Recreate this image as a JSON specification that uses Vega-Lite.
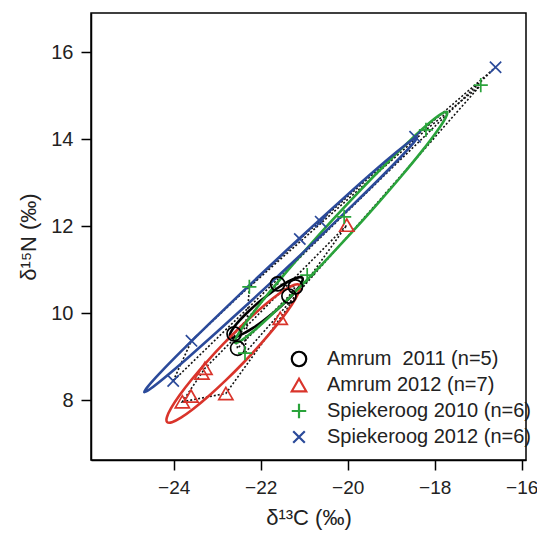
{
  "$schema": "https://vega.github.io/schema/vega-lite/v6.json",
  "width": 435,
  "height": 447,
  "autosize": {"type": "none"},
  "padding": {"left": 91, "top": 13, "right": 11, "bottom": 82},
  "background": "white",
  "config": {
    "view": {"stroke": "#000", "strokeWidth": 1.5},
    "font": "Liberation Sans",
    "axis": {
      "grid": false, "domainColor": "#000", "domainWidth": 1.5,
      "tickColor": "#000", "tickWidth": 1.5, "tickSize": 10,
      "labelFont": "Liberation Sans", "labelFontSize": 20, "labelColor": "#222",
      "titleFont": "Liberation Sans", "titleFontSize": 22, "titleFontWeight": "normal", "titleColor": "#222"
    },
    "legend": {"orient": "none", "legendX": 198, "legendY": 336, "padding": 0, "rowPadding": 3, "labelOffset": 18,
               "symbolStrokeWidth": 2.2, "symbolSize": 210, "labelFont": "Liberation Sans", "labelFontSize": 20, "labelColor": "#222", "labelLimit": 400}
  },
  "datasets": {
    "points": [
      {"group": "Amrum \u00a02011 (n=5)", "x": -21.61, "y": 10.67},
      {"group": "Amrum \u00a02011 (n=5)", "x": -21.35, "y": 10.39},
      {"group": "Amrum \u00a02011 (n=5)", "x": -22.61, "y": 9.52},
      {"group": "Amrum \u00a02011 (n=5)", "x": -22.53, "y": 9.19},
      {"group": "Amrum \u00a02011 (n=5)", "x": -21.2, "y": 10.6},
      {"group": "Amrum 2012 (n=7)", "x": -20.02, "y": 12.02},
      {"group": "Amrum 2012 (n=7)", "x": -21.55, "y": 9.88},
      {"group": "Amrum 2012 (n=7)", "x": -23.28, "y": 8.73},
      {"group": "Amrum 2012 (n=7)", "x": -23.35, "y": 8.62},
      {"group": "Amrum 2012 (n=7)", "x": -23.6, "y": 8.09},
      {"group": "Amrum 2012 (n=7)", "x": -23.8, "y": 7.96},
      {"group": "Amrum 2012 (n=7)", "x": -22.8, "y": 8.15},
      {"group": "Spiekeroog 2010 (n=6)", "x": -16.94, "y": 15.24},
      {"group": "Spiekeroog 2010 (n=6)", "x": -18.2, "y": 14.21},
      {"group": "Spiekeroog 2010 (n=6)", "x": -20.08, "y": 12.21},
      {"group": "Spiekeroog 2010 (n=6)", "x": -20.93, "y": 10.87},
      {"group": "Spiekeroog 2010 (n=6)", "x": -22.26, "y": 10.6},
      {"group": "Spiekeroog 2010 (n=6)", "x": -22.36, "y": 9.08},
      {"group": "Spiekeroog 2012 (n=6)", "x": -16.6, "y": 15.65},
      {"group": "Spiekeroog 2012 (n=6)", "x": -18.45, "y": 14.05},
      {"group": "Spiekeroog 2012 (n=6)", "x": -20.62, "y": 12.1},
      {"group": "Spiekeroog 2012 (n=6)", "x": -21.1, "y": 11.7},
      {"group": "Spiekeroog 2012 (n=6)", "x": -23.59, "y": 9.36},
      {"group": "Spiekeroog 2012 (n=6)", "x": -24.01, "y": 8.44}
    ],
    "hulls": [
      {"g": "A11", "i": 1, "x": -22.53, "y": 9.19},
      {"g": "A11", "i": 2, "x": -22.61, "y": 9.52},
      {"g": "A11", "i": 3, "x": -21.61, "y": 10.67},
      {"g": "A11", "i": 4, "x": -21.2, "y": 10.6},
      {"g": "A11", "i": 5, "x": -21.35, "y": 10.39},
      {"g": "A12", "i": 1, "x": -23.8, "y": 7.96},
      {"g": "A12", "i": 2, "x": -22.8, "y": 8.15},
      {"g": "A12", "i": 3, "x": -21.55, "y": 9.88},
      {"g": "A12", "i": 4, "x": -20.02, "y": 12.02},
      {"g": "A12", "i": 5, "x": -23.28, "y": 8.73},
      {"g": "S10", "i": 1, "x": -22.36, "y": 9.08},
      {"g": "S10", "i": 2, "x": -22.26, "y": 10.6},
      {"g": "S10", "i": 3, "x": -18.2, "y": 14.21},
      {"g": "S10", "i": 4, "x": -16.94, "y": 15.24},
      {"g": "S12", "i": 1, "x": -24.01, "y": 8.44},
      {"g": "S12", "i": 2, "x": -23.59, "y": 9.36},
      {"g": "S12", "i": 3, "x": -21.1, "y": 11.7},
      {"g": "S12", "i": 4, "x": -18.45, "y": 14.05},
      {"g": "S12", "i": 5, "x": -16.6, "y": 15.65}
    ],
    "ellipses": [
      {"eg": "A11", "i": 0, "x": -21.042, "y": 10.808},
      {"eg": "A11", "i": 1, "x": -21.103, "y": 10.825},
      {"eg": "A11", "i": 2, "x": -21.216, "y": 10.794},
      {"eg": "A11", "i": 3, "x": -21.374, "y": 10.719},
      {"eg": "A11", "i": 4, "x": -21.566, "y": 10.603},
      {"eg": "A11", "i": 5, "x": -21.778, "y": 10.455},
      {"eg": "A11", "i": 6, "x": -21.997, "y": 10.285},
      {"eg": "A11", "i": 7, "x": -22.207, "y": 10.104},
      {"eg": "A11", "i": 8, "x": -22.394, "y": 9.925},
      {"eg": "A11", "i": 9, "x": -22.545, "y": 9.76},
      {"eg": "A11", "i": 10, "x": -22.65, "y": 9.621},
      {"eg": "A11", "i": 11, "x": -22.703, "y": 9.516},
      {"eg": "A11", "i": 12, "x": -22.698, "y": 9.452},
      {"eg": "A11", "i": 13, "x": -22.637, "y": 9.435},
      {"eg": "A11", "i": 14, "x": -22.524, "y": 9.466},
      {"eg": "A11", "i": 15, "x": -22.366, "y": 9.541},
      {"eg": "A11", "i": 16, "x": -22.174, "y": 9.657},
      {"eg": "A11", "i": 17, "x": -21.962, "y": 9.805},
      {"eg": "A11", "i": 18, "x": -21.743, "y": 9.975},
      {"eg": "A11", "i": 19, "x": -21.533, "y": 10.156},
      {"eg": "A11", "i": 20, "x": -21.346, "y": 10.335},
      {"eg": "A11", "i": 21, "x": -21.195, "y": 10.5},
      {"eg": "A11", "i": 22, "x": -21.09, "y": 10.64},
      {"eg": "A11", "i": 23, "x": -21.037, "y": 10.745},
      {"eg": "A12", "i": 0, "x": -21.111, "y": 10.647},
      {"eg": "A12", "i": 1, "x": -21.221, "y": 10.65},
      {"eg": "A12", "i": 2, "x": -21.428, "y": 10.545},
      {"eg": "A12", "i": 3, "x": -21.716, "y": 10.34},
      {"eg": "A12", "i": 4, "x": -22.067, "y": 10.048},
      {"eg": "A12", "i": 5, "x": -22.456, "y": 9.689},
      {"eg": "A12", "i": 6, "x": -22.857, "y": 9.289},
      {"eg": "A12", "i": 7, "x": -23.242, "y": 8.873},
      {"eg": "A12", "i": 8, "x": -23.586, "y": 8.471},
      {"eg": "A12", "i": 9, "x": -23.865, "y": 8.109},
      {"eg": "A12", "i": 10, "x": -24.059, "y": 7.813},
      {"eg": "A12", "i": 11, "x": -24.156, "y": 7.603},
      {"eg": "A12", "i": 12, "x": -24.149, "y": 7.493},
      {"eg": "A12", "i": 13, "x": -24.039, "y": 7.49},
      {"eg": "A12", "i": 14, "x": -23.832, "y": 7.595},
      {"eg": "A12", "i": 15, "x": -23.544, "y": 7.8},
      {"eg": "A12", "i": 16, "x": -23.193, "y": 8.092},
      {"eg": "A12", "i": 17, "x": -22.804, "y": 8.451},
      {"eg": "A12", "i": 18, "x": -22.403, "y": 8.851},
      {"eg": "A12", "i": 19, "x": -22.018, "y": 9.267},
      {"eg": "A12", "i": 20, "x": -21.674, "y": 9.669},
      {"eg": "A12", "i": 21, "x": -21.395, "y": 10.031},
      {"eg": "A12", "i": 22, "x": -21.201, "y": 10.327},
      {"eg": "A12", "i": 23, "x": -21.104, "y": 10.537},
      {"eg": "S10", "i": 0, "x": -17.716, "y": 14.622},
      {"eg": "S10", "i": 1, "x": -17.848, "y": 14.577},
      {"eg": "S10", "i": 2, "x": -18.138, "y": 14.355},
      {"eg": "S10", "i": 3, "x": -18.564, "y": 13.97},
      {"eg": "S10", "i": 4, "x": -19.099, "y": 13.448},
      {"eg": "S10", "i": 5, "x": -19.705, "y": 12.826},
      {"eg": "S10", "i": 6, "x": -20.342, "y": 12.146},
      {"eg": "S10", "i": 7, "x": -20.965, "y": 11.453},
      {"eg": "S10", "i": 8, "x": -21.533, "y": 10.796},
      {"eg": "S10", "i": 9, "x": -22.007, "y": 10.219},
      {"eg": "S10", "i": 10, "x": -22.354, "y": 9.761},
      {"eg": "S10", "i": 11, "x": -22.551, "y": 9.454},
      {"eg": "S10", "i": 12, "x": -22.584, "y": 9.318},
      {"eg": "S10", "i": 13, "x": -22.452, "y": 9.363},
      {"eg": "S10", "i": 14, "x": -22.162, "y": 9.585},
      {"eg": "S10", "i": 15, "x": -21.736, "y": 9.97},
      {"eg": "S10", "i": 16, "x": -21.201, "y": 10.492},
      {"eg": "S10", "i": 17, "x": -20.595, "y": 11.114},
      {"eg": "S10", "i": 18, "x": -19.958, "y": 11.794},
      {"eg": "S10", "i": 19, "x": -19.335, "y": 12.487},
      {"eg": "S10", "i": 20, "x": -18.767, "y": 13.144},
      {"eg": "S10", "i": 21, "x": -18.293, "y": 13.721},
      {"eg": "S10", "i": 22, "x": -17.946, "y": 14.179},
      {"eg": "S10", "i": 23, "x": -17.749, "y": 14.486},
      {"eg": "S12", "i": 0, "x": -18.405, "y": 14.039},
      {"eg": "S12", "i": 1, "x": -18.539, "y": 13.967},
      {"eg": "S12", "i": 2, "x": -18.876, "y": 13.701},
      {"eg": "S12", "i": 3, "x": -19.396, "y": 13.259},
      {"eg": "S12", "i": 4, "x": -20.061, "y": 12.669},
      {"eg": "S12", "i": 5, "x": -20.828, "y": 11.974},
      {"eg": "S12", "i": 6, "x": -21.642, "y": 11.22},
      {"eg": "S12", "i": 7, "x": -22.45, "y": 10.458},
      {"eg": "S12", "i": 8, "x": -23.196, "y": 9.74},
      {"eg": "S12", "i": 9, "x": -23.829, "y": 9.117},
      {"eg": "S12", "i": 10, "x": -24.306, "y": 8.629},
      {"eg": "S12", "i": 11, "x": -24.594, "y": 8.309},
      {"eg": "S12", "i": 12, "x": -24.675, "y": 8.181},
      {"eg": "S12", "i": 13, "x": -24.541, "y": 8.253},
      {"eg": "S12", "i": 14, "x": -24.203, "y": 8.519},
      {"eg": "S12", "i": 15, "x": -23.684, "y": 8.962},
      {"eg": "S12", "i": 16, "x": -23.019, "y": 9.551},
      {"eg": "S12", "i": 17, "x": -22.252, "y": 10.246},
      {"eg": "S12", "i": 18, "x": -21.438, "y": 11.0},
      {"eg": "S12", "i": 19, "x": -20.63, "y": 11.762},
      {"eg": "S12", "i": 20, "x": -19.884, "y": 12.48},
      {"eg": "S12", "i": 21, "x": -19.251, "y": 13.104},
      {"eg": "S12", "i": 22, "x": -18.774, "y": 13.592},
      {"eg": "S12", "i": 23, "x": -18.486, "y": 13.911}
    ]
  },
  "encoding": {
    "x": {"field": "x", "type": "quantitative", "scale": {"domain": [-25.9, -15.9], "nice": false, "zero": false},
          "axis": {"values": [-24, -22, -20, -18, -16], "title": "δ¹³C (‰)", "labelPadding": 8, "titlePadding": 10, "labelFontSize": 19}},
    "y": {"field": "y", "type": "quantitative", "scale": {"domain": [6.621, 16.897], "nice": false, "zero": false},
          "axis": {"values": [8, 10, 12, 14, 16], "title": "δ¹⁵N (‰)", "labelPadding": 8, "titlePadding": 10}}
  },
  "layer": [
    {
      "data": {"name": "hulls"},
      "mark": {"type": "line", "interpolate": "linear-closed", "color": "#111", "strokeWidth": 1.6, "strokeDash": [2, 2]},
      "encoding": {"detail": {"field": "g"}, "order": {"field": "i", "type": "quantitative"}}
    },
    {
      "data": {"name": "ellipses"},
      "mark": {"type": "line", "interpolate": "cardinal-closed", "strokeWidth": 2.6},
      "encoding": {
        "stroke": {"field": "eg", "type": "nominal", "legend": null,
                  "scale": {"domain": ["A11", "A12", "S10", "S12"], "range": ["#000000", "#d9342b", "#2aa33b", "#2b4a9a"]}},
        "order": {"field": "i", "type": "quantitative"}
      }
    },
    {
      "data": {"name": "points"},
      "mark": {"type": "point", "filled": false, "strokeWidth": 1.7, "opacity": 1, "size": 200},
      "encoding": {
        "color": {"field": "group", "type": "nominal",
                  "scale": {"domain": ["Amrum \u00a02011 (n=5)", "Amrum 2012 (n=7)", "Spiekeroog 2010 (n=6)", "Spiekeroog 2012 (n=6)"],
                            "range": ["#000000", "#d9342b", "#2aa33b", "#2b4a9a"]},
                  "legend": {"title": null}},
        "shape": {"field": "group", "type": "nominal",
                  "scale": {"domain": ["Amrum \u00a02011 (n=5)", "Amrum 2012 (n=7)", "Spiekeroog 2010 (n=6)", "Spiekeroog 2012 (n=6)"],
                            "range": ["circle", "triangle-up", "M-1,0L1,0M0,-1L0,1", "M-0.8,-0.8L0.8,0.8M-0.8,0.8L0.8,-0.8"]},
                  "legend": {"title": null}}
      }
    }
  ]
}
